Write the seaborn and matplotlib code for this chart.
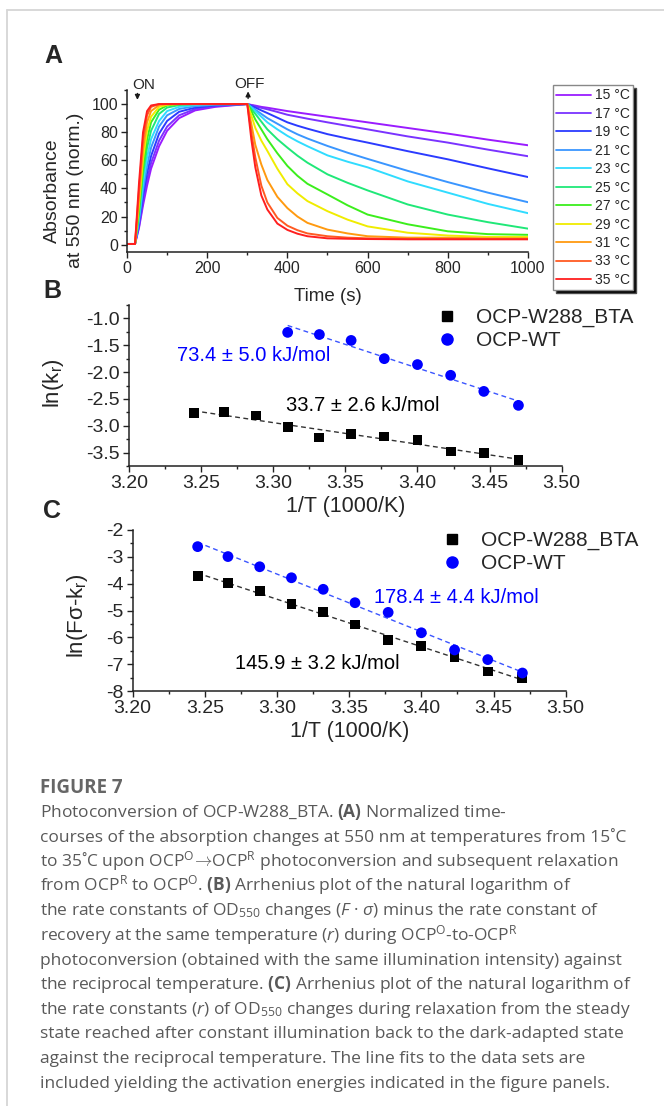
import matplotlib
matplotlib.use("Agg")
import matplotlib.pyplot as plt
from matplotlib.lines import Line2D
from matplotlib.ticker import MultipleLocator, FormatStrFormatter
import numpy as np
import pandas as pd
import seaborn as sns

W, H = 664, 1106  # figure size in pixels


def fx(px):
    return px / W


def fy(py):
    return 1 - py / H


# ---- Panel A: normalized absorbance time courses ----
temps = [15, 17, 19, 21, 23, 25, 27, 29, 31, 33, 35]
colors_a = ["#9a1cff", "#7a33ff", "#2b3bff", "#3a96ff", "#30dcff", "#20e878",
            "#3cee1c", "#f0ec00", "#ff9a10", "#ff5a22", "#ff1f1f"]

rise_t = [0, 20, 30, 40, 50, 60, 80, 100, 130, 170, 220, 300]
rise_15 = [0.5, 0.5, 12, 28, 42, 54, 70, 81, 90, 95.5, 98, 100]
rise_17 = [0.5, 0.5, 13, 31, 46, 58, 74, 84, 92, 96.5, 98.5, 100]
rise_19 = [0.5, 0.5, 15, 35, 51, 63, 79, 88, 94.5, 97.5, 99, 100]
rise_21 = [0.5, 0.5, 17, 39, 56, 69, 84, 92, 96.5, 98.5, 99.5, 100]
rise_23 = [0.5, 0.5, 19, 44, 62, 75, 88, 95, 98, 99.3, 100, 100]
rise_25 = [0.5, 0.5, 22, 50, 69, 81, 93, 97.5, 99.3, 100, 100, 100]
rise_27 = [0.5, 0.5, 25, 55, 75, 87, 96, 99, 100, 100, 100, 100]
rise_29 = [0.5, 0.5, 29, 61, 81, 91, 98, 99.5, 100, 100, 100, 100]
rise_31 = [0.5, 0.5, 34, 68, 87, 95, 99.3, 100, 100, 100, 100, 100]
rise_33 = [0.5, 0.5, 39, 75, 92, 98, 100, 100, 100, 100, 100, 100]
rise_35 = [0.5, 0.5, 44, 80, 95, 99, 100, 100, 100, 100, 100, 100]

decay_t = [310, 320, 335, 350, 375, 400, 425, 450, 500, 550, 600, 700, 800, 900, 1000]
decay_15 = [99.4, 98.9, 98, 97.4, 96.2, 95, 94, 93, 91, 89, 87, 83, 79, 74.7, 70.7]
decay_17 = [99.2, 98.4, 97.3, 96.3, 94.4, 92.4, 91, 89.6, 87, 84.5, 82, 77, 72.6, 67.6, 62.9]
decay_19 = [98.7, 97.5, 95.5, 93.6, 90.3, 87, 84.6, 82.5, 78.6, 75.5, 72.6, 66.5, 60.7, 54.3, 48.1]
decay_21 = [98, 96, 93, 90, 86, 82, 78.5, 75.5, 70.2, 65.4, 61, 52.5, 44.5, 37, 30.2]
decay_23 = [97.5, 95, 91, 87, 82, 77.4, 73.5, 70, 63.5, 59, 55, 45, 37, 29, 22.4]
decay_25 = [96.5, 93, 87.5, 82, 75, 69, 63.3, 58.3, 50, 44, 38.6, 28.6, 21.4, 16, 11.4]
decay_27 = [95, 89, 82, 75, 65, 56, 49, 43.3, 35.7, 28, 21.4, 14.5, 9.5, 7.5, 7]
decay_29 = [92, 83, 74, 66.7, 54, 43, 36.5, 31, 23.8, 17.8, 13, 8.5, 6.5, 5.5, 5.5]
decay_31 = [86, 71, 57, 46, 34, 26, 20, 15.5, 10.7, 8, 6, 5, 5, 4.5, 4.5]
decay_33 = [80, 62, 42, 30, 19, 13.5, 10.3, 8, 6, 5, 4.5, 4, 4, 4, 4]
decay_35 = [75, 55, 35, 25, 15, 10.5, 7.8, 6, 4.5, 4.2, 4, 3.8, 3.8, 3.8, 3.8]

rise_curves = [rise_15, rise_17, rise_19, rise_21, rise_23, rise_25,
               rise_27, rise_29, rise_31, rise_33, rise_35]
decay_curves = [decay_15, decay_17, decay_19, decay_21, decay_23, decay_25,
                decay_27, decay_29, decay_31, decay_33, decay_35]

# ---- Panels B and C: Arrhenius plots ----
inv_T = [3.245, 3.266, 3.288, 3.310, 3.332, 3.354, 3.377, 3.400, 3.423, 3.446, 3.470]
b_bta = [-2.77, -2.74, -2.81, -3.02, -3.22, -3.15, -3.20, -3.27, -3.48, -3.51, -3.64]
b_wt_x = [3.310, 3.332, 3.354, 3.377, 3.400, 3.423, 3.446, 3.470]
b_wt = [-1.26, -1.30, -1.41, -1.75, -1.86, -2.06, -2.36, -2.62]
c_bta = [-3.70, -3.99, -4.26, -4.75, -5.06, -5.52, -6.09, -6.31, -6.72, -7.27, -7.52]
c_wt = [-2.62, -2.99, -3.37, -3.78, -4.21, -4.71, -5.07, -5.83, -6.47, -6.83, -7.33]
series_names = ["OCP-W288_BTA", "OCP-WT"]

cap_lines = [
    r"Photoconversion of OCP-W288_BTA. $\mathbf{(A)}$ Normalized time-",
    "courses of the absorption changes at 550 nm at temperatures from 15˚C",
    r"to 35˚C upon OCP$^{\mathregular{O}}\!\rightarrow\!$OCP$^{\mathregular{R}}$ photoconversion and subsequent relaxation",
    r"from OCP$^{\mathregular{R}}$ to OCP$^{\mathregular{O}}$. $\mathbf{(B)}$ Arrhenius plot of the natural logarithm of",
    r"the rate constants of OD$_{\mathregular{550}}$ changes ($\mathit{F}$ · $\mathit{\sigma}$) minus the rate constant of",
    r"recovery at the same temperature ($\mathit{r}$) during OCP$^{\mathregular{O}}$-to-OCP$^{\mathregular{R}}$",
    "photoconversion (obtained with the same illumination intensity) against",
    r"the reciprocal temperature. $\mathbf{(C)}$ Arrhenius plot of the natural logarithm of",
    r"the rate constants ($\mathit{r}$) of OD$_{\mathregular{550}}$ changes during relaxation from the steady",
    "state reached after constant illumination back to the dark-adapted state",
    "against the reciprocal temperature. The line fits to the data sets are",
    "included yielding the activation energies indicated in the figure panels.",
]

# ---- style ----
sns.set_theme(style="ticks")
plt.rcParams["font.family"] = ["Liberation Sans", "DejaVu Sans"]
plt.rcParams["axes.unicode_minus"] = False
plt.rcParams["axes.linewidth"] = 1.1
plt.rcParams["axes.edgecolor"] = "#222222"
plt.rcParams["mathtext.fontset"] = "custom"
plt.rcParams["mathtext.rm"] = "Open Sans"
plt.rcParams["mathtext.it"] = "Open Sans:italic"
plt.rcParams["mathtext.bf"] = "Open Sans:bold"

fig = plt.figure(figsize=(W / 100, H / 100), dpi=100)

# light frame of the page
fig.add_artist(Line2D([fx(7), fx(7)], [0, fy(10)], transform=fig.transFigure,
                      color="#d6d6d6", lw=1.3))
fig.add_artist(Line2D([fx(7), 1], [fy(10), fy(10)], transform=fig.transFigure,
                      color="#d6d6d6", lw=1.3))


def style_axis(ax, tick_size):
    sns.despine(ax=ax)
    ax.tick_params(which="major", direction="out", length=4.5, width=1,
                   labelsize=tick_size, pad=2, color="#222222")
    ax.tick_params(which="minor", direction="out", length=2.5, width=1, color="#222222")
    ax.set_facecolor("none")


# ---- Panel A ----
ax_a = fig.add_axes([fx(127), fy(251.7), (528 - 127) / W, 161.7 / H])
rows = []
for temp, r, d in zip(temps, rise_curves, decay_curves):
    for t, v in zip(rise_t + decay_t, r + d):
        rows.append((t, v, f"{temp} °C"))
df_a = pd.DataFrame(rows, columns=["time", "absorb", "temp"])
sns.lineplot(data=df_a, x="time", y="absorb", hue="temp", palette=colors_a,
             estimator=None, sort=False, lw=1.4, legend=False, ax=ax_a)
ax_a.set_xlim(0, 1000)
ax_a.set_ylim(-5, 110)
ax_a.xaxis.set_major_locator(MultipleLocator(200))
ax_a.xaxis.set_minor_locator(MultipleLocator(100))
ax_a.yaxis.set_major_locator(MultipleLocator(20))
ax_a.yaxis.set_minor_locator(MultipleLocator(10))
style_axis(ax_a, 11.5)
ax_a.set_xlabel("Time (s)", fontsize=13.5, labelpad=9)
ax_a.set_ylabel("Absorbance\nat 550 nm (norm.)", fontsize=14, linespacing=1.45)
ax_a.yaxis.set_label_coords(-0.107, 0.38)

ax_a.annotate("", xy=(26, 101), xytext=(26, 109.5), annotation_clip=False,
              arrowprops=dict(arrowstyle="-|>", color="k", lw=1, mutation_scale=7))
ax_a.text(13, 111, "ON", fontsize=11, ha="left", va="baseline")
ax_a.annotate("", xy=(302, 111), xytext=(302, 102), annotation_clip=False,
              arrowprops=dict(arrowstyle="-|>", color="k", lw=1, mutation_scale=7))
ax_a.text(268, 111.5, "OFF", fontsize=11, ha="left", va="baseline")

handles_a = [Line2D([], [], color=c, lw=1.3) for c in colors_a]
fig.legend(handles_a, [f"{t} °C" for t in temps], loc="upper left",
           bbox_to_anchor=(fx(553), fy(85)), fontsize=10, frameon=True,
           fancybox=False, edgecolor="#888888", framealpha=1,
           shadow={"facecolor": "black", "alpha": 1},
           handlelength=2.45, handletextpad=0.3, borderpad=0.25,
           labelspacing=0.32, borderaxespad=0)

fig.text(fx(44), fy(63), "A", fontsize=18, fontweight="bold", va="baseline")


# ---- Panels B and C ----
def arrhenius(ax, bta_y, wt_x, wt_y, ylim, ymaj, ymin, yfmt, ylabel, leg_xy):
    sns.regplot(x=np.array(inv_T), y=np.array(bta_y), scatter=False, ci=None,
                truncate=True, ax=ax,
                line_kws=dict(color="#333333", lw=1, ls=(0, (3.5, 2.5))))
    sns.regplot(x=np.array(wt_x), y=np.array(wt_y), scatter=False, ci=None,
                truncate=True, ax=ax,
                line_kws=dict(color="#3b55ff", lw=1, ls=(0, (3.5, 2.5))))
    sns.scatterplot(x=inv_T, y=bta_y, marker="s", s=50, color="black",
                    edgecolor="none", ax=ax, zorder=3)
    sns.scatterplot(x=wt_x, y=wt_y, marker="o", s=60, color="blue",
                    edgecolor="none", ax=ax, zorder=3)
    ax.set_xlim(3.20, 3.50)
    ax.set_ylim(*ylim)
    ax.xaxis.set_major_locator(MultipleLocator(0.05))
    ax.xaxis.set_minor_locator(MultipleLocator(0.025))
    ax.xaxis.set_major_formatter(FormatStrFormatter("%.2f"))
    ax.yaxis.set_major_locator(MultipleLocator(ymaj))
    ax.yaxis.set_minor_locator(MultipleLocator(ymin))
    ax.yaxis.set_major_formatter(FormatStrFormatter(yfmt))
    style_axis(ax, 14)
    ax.set_xlabel("1/T (1000/K)", fontsize=15.5, labelpad=3)
    ax.set_ylabel(ylabel, fontsize=16)
    handles = [Line2D([], [], ls="none", marker="s", ms=7, color="black"),
               Line2D([], [], ls="none", marker="o", ms=8, color="blue")]
    ax.legend(handles, series_names, loc="upper left",
              bbox_to_anchor=(fx(leg_xy[0]), fy(leg_xy[1])),
              bbox_transform=fig.transFigure, frameon=False, fontsize=15,
              handlelength=1.0, handletextpad=0.85, borderpad=0,
              borderaxespad=0, labelspacing=0.2)


ax_b = fig.add_axes([fx(129), fy(466), (561.7 - 129) / W, (466 - 305) / H])
arrhenius(ax_b, b_bta, b_wt_x, b_wt, (-3.75, -0.75), 0.5, 0.25, "%.1f",
          r"ln(k$_{\mathregular{r}}$)", (437, 308))
ax_b.yaxis.set_label_coords(-0.145, 0.515)
ax_b.text(3.2867, -1.69, "73.4 ± 5.0 kJ/mol", color="blue", fontsize=14.5,
          ha="center", va="center")
ax_b.text(3.3622, -2.624, "33.7 ± 2.6 kJ/mol", color="black", fontsize=14.5,
          ha="center", va="center")
fig.text(fx(43), fy(298), "B", fontsize=18, fontweight="bold", va="baseline")

ax_c = fig.add_axes([fx(132.7), fy(691), (565.7 - 132.7) / W, (691 - 530) / H])
arrhenius(ax_c, c_bta, inv_T, c_wt, (-8, -2), 1, 0.5, "%d",
          r"ln(Fσ-k$_{\mathregular{r}}$)", (442, 531))
ax_c.yaxis.set_label_coords(-0.098, 0.47)
ax_c.text(3.424, -4.516, "178.4 ± 4.4 kJ/mol", color="blue", fontsize=14.5,
          ha="center", va="center")
ax_c.text(3.3277, -6.957, "145.9 ± 3.2 kJ/mol", color="black", fontsize=14.5,
          ha="center", va="center")
fig.text(fx(43), fy(518), "C", fontsize=18, fontweight="bold", va="baseline")

# ---- caption ----
fig.text(fx(40), fy(793), "FIGURE 7", fontsize=13.5, fontweight="bold",
         color="#666666", family="Open Sans", va="baseline")
for i, line in enumerate(cap_lines):
    fig.text(fx(40), fy(817 + i * 24.6), line, fontsize=12.5, color="#595959",
             family="Open Sans", va="baseline")

fig.savefig("out.png", dpi=100)
